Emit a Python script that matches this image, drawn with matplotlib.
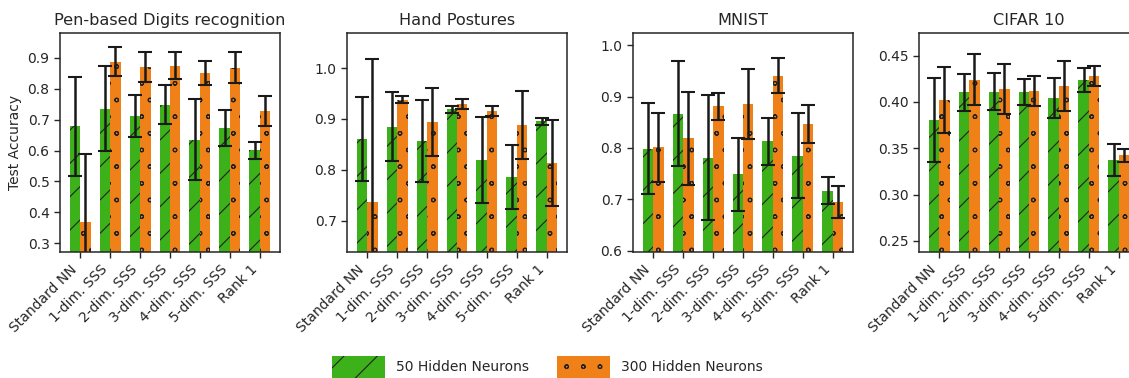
import matplotlib
matplotlib.use("Agg")
import matplotlib.pyplot as plt
import matplotlib.hatch as mhatch
import numpy as np
from matplotlib.patches import Patch

methods = ["Standard NN", "1-dim. SSS", "2-dim. SSS", "3-dim. SSS",
           "4-dim. SSS", "5-dim. SSS", "Rank 1"]
titles = ["Pen-based Digits recognition", "Hand Postures", "MNIST", "CIFAR 10"]

pen_50 = [0.678, 0.736, 0.712, 0.749, 0.635, 0.673, 0.601]
pen_50_err = [0.160, 0.139, 0.068, 0.063, 0.132, 0.059, 0.028]
pen_300 = [0.369, 0.888, 0.870, 0.875, 0.851, 0.869, 0.729]
pen_300_err = [0.220, 0.046, 0.048, 0.044, 0.039, 0.049, 0.048]

hand_50 = [0.860, 0.885, 0.857, 0.919, 0.819, 0.786, 0.895]
hand_50_err = [0.083, 0.068, 0.081, 0.007, 0.085, 0.063, 0.007]
hand_300 = [0.737, 0.938, 0.894, 0.929, 0.915, 0.888, 0.813]
hand_300_err = [0.281, 0.007, 0.066, 0.010, 0.010, 0.067, 0.084]

mnist_50 = [0.799, 0.867, 0.781, 0.749, 0.813, 0.785, 0.717]
mnist_50_err = [0.089, 0.102, 0.122, 0.071, 0.046, 0.083, 0.027]
mnist_300 = [0.801, 0.819, 0.881, 0.886, 0.941, 0.847, 0.695]
mnist_300_err = [0.068, 0.091, 0.027, 0.068, 0.034, 0.037, 0.031]

cifar_50 = [0.3806, 0.4104, 0.411, 0.411, 0.4047, 0.4234, 0.3376]
cifar_50_err = [0.045, 0.020, 0.020, 0.014, 0.0216, 0.013, 0.017]
cifar_300 = [0.4025, 0.424, 0.4144, 0.4122, 0.4173, 0.4284, 0.3424]
cifar_300_err = [0.0356, 0.0277, 0.027, 0.016, 0.027, 0.011, 0.007]

ylims = [(0.271, 0.981), (0.6384, 1.0688), (0.5974, 1.024), (0.238, 0.4745)]
yticks = [[0.3, 0.4, 0.5, 0.6, 0.7, 0.8, 0.9],
          [0.7, 0.8, 0.9, 1.0],
          [0.6, 0.7, 0.8, 0.9, 1.0],
          [0.25, 0.30, 0.35, 0.40, 0.45]]
yfmt = ["%.1f", "%.1f", "%.1f", "%.2f"]

data = [(pen_50, pen_50_err, pen_300, pen_300_err),
        (hand_50, hand_50_err, hand_300, hand_300_err),
        (mnist_50, mnist_50_err, mnist_300, mnist_300_err),
        (cifar_50, cifar_50_err, cifar_300, cifar_300_err)]

GREEN = "#3cb119"
ORANGE = "#f08119"
mhatch.SmallCircles.size = 0.11
plt.rcParams["hatch.linewidth"] = 0.8
plt.rcParams["font.family"] = "DejaVu Sans"

W, H = 1129, 378
fig = plt.figure(figsize=(W / 100, H / 100), dpi=100)
lefts = [60, 347, 633, 919]
aw, top, bot = 220, 33, 252
x = np.arange(len(methods))
w = 0.35
txtc = "#262626"
for i, (l, d) in enumerate(zip(lefts, data)):
    ax = fig.add_axes([l / W, 1 - bot / H, aw / W, (bot - top) / H])
    g, ge, o, oe = d
    ekw = dict(ecolor="#1a1a1a", elinewidth=1.8, capsize=5, capthick=1.5)
    ax.bar(x - w / 2, g, w, yerr=ge, color=GREEN, edgecolor="#222222",
           linewidth=0, hatch="/", error_kw=ekw, zorder=2)
    ax.bar(x + w / 2, o, w, yerr=oe, color=ORANGE, edgecolor="#222222",
           linewidth=0, hatch="o", error_kw=ekw, zorder=2)
    ax.set_xlim(-0.67, 6.67)
    ax.set_ylim(*ylims[i])
    ax.set_yticks(yticks[i])
    ax.set_yticklabels([yfmt[i] % v for v in yticks[i]])
    ax.set_xticks(x)
    ax.set_xticklabels(methods, rotation=45, ha="right", rotation_mode="default")
    ax.tick_params(axis="both", labelsize=10, colors=txtc, length=4, width=1,
                   direction="out")
    for s in ax.spines.values():
        s.set_color("#262626")
        s.set_linewidth(1.1)
    ax.set_title(titles[i], fontsize=11.6, color=txtc, pad=6)
    if i == 0:
        ax.set_ylabel("Test Accuracy", fontsize=10, color=txtc)

handles = [Patch(facecolor=GREEN, edgecolor="#222222", linewidth=0, hatch="/"),
           Patch(facecolor=ORANGE, edgecolor="#222222", linewidth=0, hatch="o")]
leg = fig.legend(handles, ["50 Hidden Neurons", "300 Hidden Neurons"],
                 loc="center", bbox_to_anchor=(0.485, 1 - 367 / H), ncol=2,
                 frameon=False, fontsize=10, handlelength=3.8, handleheight=2.0,
                 columnspacing=2.0, handletextpad=0.8)
for t in leg.get_texts():
    t.set_color(txtc)

fig.savefig("out.png", dpi=100)
